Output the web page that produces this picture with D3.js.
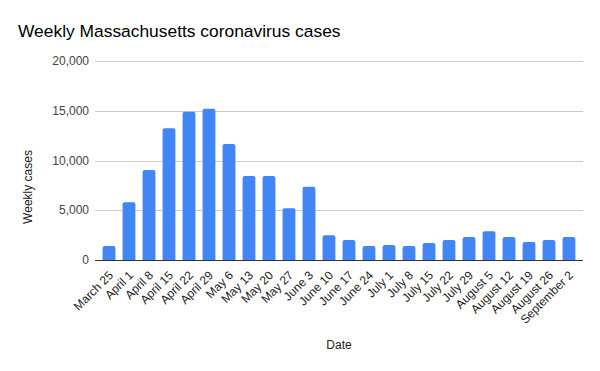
<!DOCTYPE html>
<html lang="en">
<head>
<meta charset="utf-8">
<title>Weekly Massachusetts coronavirus cases</title>
<script src="https://cdn.jsdelivr.net/npm/d3@7/dist/d3.min.js"></script>
<style>
  body { margin: 0; background: #fff; }
  svg text { font-family: "Liberation Sans", Arial, sans-serif; fill: #222; }
  .grid line { stroke: #ccc; shape-rendering: crispEdges; }
  .grid path { stroke-width: 0; }
  .ylab text { font-size: 12px; fill: #444; }
  .xlab text { font-size: 12px; fill: #222; }
</style>
</head>
<body>
<script>
// week labels
var weeks = ["March 25", "April 1", "April 8", "April 15", "April 22", "April 29",
  "May 6", "May 13", "May 20", "May 27", "June 3", "June 10", "June 17", "June 24",
  "July 1", "July 8", "July 15", "July 22", "July 29", "August 5", "August 12",
  "August 19", "August 26", "September 2"];
// weekly case counts
var cases = [1400, 5800, 9050, 13250, 14900, 15200, 11650, 8450, 8450, 5200, 7350,
  2500, 2000, 1400, 1500, 1400, 1700, 2000, 2300, 2900, 2300, 1800, 2000, 2300];
var yTicks = [0, 5000, 10000, 15000, 20000];

var W = 600, H = 371;
var plotL = 95, plotR = 583, plotT = 61, plotB = 260;

var svg = d3.select("body").append("svg")
  .attr("width", W).attr("height", H);

var x = d3.scaleBand()
  .domain(weeks)
  .range([plotL, plotR])
  .paddingInner(0.36)
  .paddingOuter(0.38);

var y = d3.scaleLinear()
  .domain([0, 20000])
  .range([plotB, plotT]);

// gridlines
svg.append("g")
  .attr("class", "grid")
  .attr("transform", "translate(" + plotL + ",0)")
  .call(d3.axisLeft(y).tickValues(yTicks).tickSize(-(plotR - plotL)).tickFormat(""));

// y tick labels
var yl = svg.append("g").attr("class", "ylab");
yl.selectAll("text")
  .data(yTicks)
  .enter().append("text")
  .attr("x", plotL - 6)
  .attr("y", function(d) { return y(d); })
  .attr("dy", "0.35em")
  .attr("text-anchor", "end")
  .text(d3.format(","));

// bars, rounded on top
var r = 2;
svg.selectAll(".bar")
  .data(cases)
  .enter().append("path")
  .attr("class", "bar")
  .attr("fill", "#4285f4")
  .attr("d", function(d, i) {
    var x0 = x(weeks[i]), bw = x.bandwidth(), y0 = y(d), yb = y(0);
    return "M" + x0 + "," + yb +
      "V" + (y0 + r) +
      "Q" + x0 + "," + y0 + " " + (x0 + r) + "," + y0 +
      "H" + (x0 + bw - r) +
      "Q" + (x0 + bw) + "," + y0 + " " + (x0 + bw) + "," + (y0 + r) +
      "V" + yb + "Z";
  });

// baseline
svg.append("line")
  .attr("x1", plotL).attr("x2", plotR)
  .attr("y1", y(0) + 0.5).attr("y2", y(0) + 0.5)
  .attr("stroke", "#333").attr("stroke-width", 1);

// x labels, rotated
var xl = svg.append("g").attr("class", "xlab");
xl.selectAll("text")
  .data(weeks)
  .enter().append("text")
  .attr("transform", function(d) {
    return "translate(" + (x(d) + x.bandwidth() / 2 + 2) + "," + (plotB + 13) + ") rotate(-45)";
  })
  .attr("text-anchor", "end")
  .attr("dy", "0.35em")
  .text(function(d) { return d; });

// title
svg.append("text")
  .attr("x", 18).attr("y", 37)
  .style("font-size", "17.4px")
  .style("fill", "#000")
  .text("Weekly Massachusetts coronavirus cases");

// axis titles
svg.append("text")
  .attr("transform", "translate(32,187) rotate(-90)")
  .attr("text-anchor", "middle")
  .style("font-size", "12px")
  .text("Weekly cases");

svg.append("text")
  .attr("x", (plotL + plotR) / 2).attr("y", 349)
  .attr("text-anchor", "middle")
  .style("font-size", "12px")
  .text("Date");
</script>
</body>
</html>
